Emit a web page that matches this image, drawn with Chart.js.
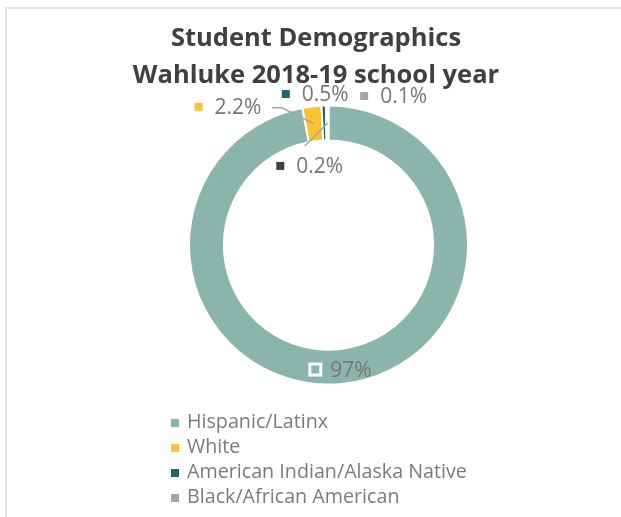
<!DOCTYPE html>
<html>
<head>
<meta charset="utf-8">
<script src="https://cdn.jsdelivr.net/npm/chart.js@4.4.1/dist/chart.umd.min.js"></script>
<style>
    body { margin: 0; width: 621px; height: 517px; overflow: hidden; background: #fff; font-family: "Open Sans", sans-serif; }
    #frame { position: absolute; left: 5px; top: 7px; width: 660px; height: 560px; border: 2px solid #e2e2e2; box-sizing: border-box; }
    #title { position: absolute; left: 0; top: 18px; width: 632px; text-align: center; font-weight: bold; font-size: 25.5px; line-height: 37px; color: #404040; }
    #wrap { position: absolute; left: 0; top: 0; width: 621px; height: 517px; }
    #legend { position: absolute; left: 171px; top: 408px; height: 100px; overflow: hidden; margin: 0; padding: 0; list-style: none; }
    #legend li { height: 25px; line-height: 25px; font-size: 19.7px; color: #7b7b7b; white-space: nowrap; }
    #legend span { display: inline-block; width: 8px; height: 8px; margin-right: 8px; vertical-align: 1px; }
</style>
</head>
<body>
<div id="frame"></div>
<div id="wrap"><canvas id="chart" width="621" height="517"></canvas></div>
<div id="title">Student Demographics<br>Wahluke 2018-19 school year</div>
<ul id="legend"></ul>
<script>
    var categories = ['Hispanic/Latinx', 'White', 'American Indian/Alaska Native', 'Black/African American', 'Two or More Races'];
    var shares = [97, 2.2, 0.5, 0.1, 0.2];
    var colors = ['#8bb5aa', '#fbc231', '#24626d', '#a5a5a5', '#404040'];

    // where each data label sits relative to its slice (Excel moved the small ones by hand)
    var labelPlacement = [
        { inside: true },
        { dx: -86, dy: -17, leader: [[44, 1], [54, 1]] },
        { dx: -9, dy: -29 },
        { dx: 67, dy: -27 },
        { dx: -18, dy: 43, leader: [[-5, -20]] }
    ];

    var dataLabels = {
        id: 'dataLabels',
        afterDatasetsDraw: function(chart) {
            var ctx = chart.ctx,
                arcs = chart.getDatasetMeta(0).data;
            ctx.save();
            ctx.font = '21px "Open Sans"';
            ctx.textBaseline = 'middle';
            arcs.forEach(function(arc, i) {
                var p = arc.getProps(['x', 'y', 'startAngle', 'endAngle', 'innerRadius', 'outerRadius']),
                    mid = (p.startAngle + p.endAngle) / 2,
                    r = (p.innerRadius + p.outerRadius) / 2,
                    ax = p.x + Math.cos(mid) * r,
                    ay = p.y + Math.sin(mid) * r,
                    place = labelPlacement[i],
                    text = shares[i] + '%',
                    tw = ctx.measureText(text).width,
                    box = place.inside ? 14 : 8,
                    gap = place.inside ? 8 : 12,
                    cx = place.inside ? ax : ax + place.dx,
                    cy = place.inside ? ay + 3 : ay + place.dy,
                    left = cx - (box + gap + tw) / 2;

                if (place.leader) {
                    ctx.strokeStyle = '#a6a6a6';
                    ctx.lineWidth = 1.5;
                    ctx.beginPath();
                    place.leader.forEach(function(pt, k) {
                        if (k === 0) ctx.moveTo(cx + pt[0], cy + pt[1]);
                        else ctx.lineTo(cx + pt[0], cy + pt[1]);
                    });
                    ctx.lineTo(ax, ay);
                    ctx.stroke();
                }

                if (place.inside) {
                    ctx.fillStyle = '#fff';
                    ctx.fillRect(left, cy - box / 2, box, box);
                    ctx.fillStyle = colors[i];
                    ctx.fillRect(left + 3, cy - box / 2 + 3, box - 6, box - 6);
                } else {
                    ctx.fillStyle = colors[i];
                    ctx.fillRect(left, cy - box / 2, box, box);
                }
                ctx.fillStyle = '#777777';
                ctx.textAlign = 'left';
                ctx.fillText(text, left + box + gap, cy + 1);
            });
            ctx.restore();
        }
    };

    var chart = new Chart(document.getElementById('chart'), {
        type: 'doughnut',
        data: {
            labels: categories,
            datasets: [{
                data: shares,
                backgroundColor: colors,
                borderColor: '#ffffff',
                borderWidth: 2
            }]
        },
        options: {
            responsive: false,
            animation: false,
            cutout: '75%',
            layout: {
                padding: { left: 188, right: 152, top: 104, bottom: 131 }
            },
            plugins: {
                legend: { display: false },
                tooltip: { enabled: false }
            }
        },
        plugins: [dataLabels]
    });

    document.getElementById('legend').innerHTML = categories.map(function(name, i) {
        return '<li><span style="background:' + colors[i] + '"></span>' + name + '</li>';
    }).join('');
</script>
</body>
</html>
